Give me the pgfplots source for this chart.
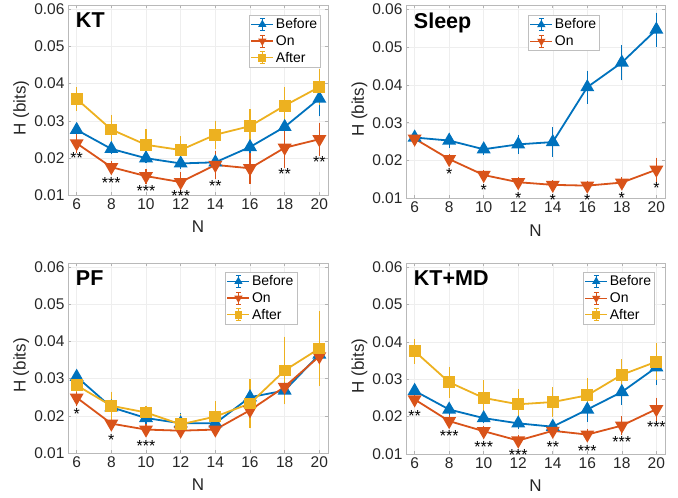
\documentclass[border=0pt]{standalone}
\usepackage{pgfplots}
\pgfplotsset{compat=1.18}
\usepackage{fontspec}
\setmainfont{Liberation Sans}
\definecolor{mblue}{rgb}{0,0.447,0.741}
\definecolor{morange}{rgb}{0.85,0.325,0.098}
\definecolor{myellow}{rgb}{0.929,0.694,0.125}
\tikzset{
  stars/.style={font=\fontsize{16}{18}\selectfont, anchor=base, inner sep=0pt, yshift=-9pt},
  ttl/.style={font=\bfseries\fontsize{21.5}{24}\selectfont, anchor=north west, inner sep=0pt},
}
\pgfplotsset{
  errleg/.style={legend image code/.code={
    \draw[##1, mark=none, line width=1.3pt] (0pt,0pt) -- (22pt,0pt);
    \draw[##1, mark=none, line width=1pt] (11pt,-6pt) -- (11pt,6pt) (8.5pt,-6pt) -- (13.5pt,-6pt) (8.5pt,6pt) -- (13.5pt,6pt);
    \draw[##1, mark size=3pt] plot coordinates {(11pt,0pt)};
  }},
  panel/.style={
    scale only axis, anchor=south west,
    xmin=5.5, xmax=20.5, ymin=0.01, ymax=0.0611,
    xtick={6,8,10,12,14,16,18,20},
    ytick={0.01,0.02,0.03,0.04,0.05,0.06},
    yticklabels={0.01,0.02,0.03,0.04,0.05,0.06},
    scaled y ticks=false,
    /pgf/number format/assume math mode=true,
    tick label style={font=\fontsize{15.5}{18}\selectfont, text=black!85},
    xlabel={N}, ylabel={H (bits)},
    label style={font=\fontsize{17}{20}\selectfont, text=black!85},
    x label style={at={(axis description cs:0.5,-0.165)}, anchor=center},
    y label style={at={(axis description cs:-0.18,0.46)}, anchor=center},
    grid=major, grid style={gray!13, line width=0.5pt},
    axis line style={gray!55, line width=0.6pt},
    tick style={gray!60, line width=0.6pt}, tick align=inside, major tick length=3pt,
    clip=false,
    legend cell align=left,
    legend style={font=\fontsize{14}{16}\selectfont, draw=gray!50, line width=0.5pt, inner sep=1.5pt, row sep=1.2pt, fill=white},
    errleg,
  },
  before/.style={color=mblue, line width=1.8pt, mark=triangle*, mark size=6.3pt, mark options={solid, fill=mblue},
    error bars/y dir=both, error bars/y explicit,
    error bars/error bar style={line width=1.2pt},
    error bars/error mark options={mblue, line width=1.2pt, mark size=3pt}},
  on/.style={color=morange, line width=1.8pt, mark=triangle*, mark size=6.3pt, mark options={solid, fill=morange, rotate=180},
    error bars/y dir=both, error bars/y explicit,
    error bars/error bar style={line width=1.2pt},
    error bars/error mark options={morange, line width=1.2pt, mark size=3pt, rotate=0}},
  after/.style={color=myellow, line width=1.8pt, mark=square*, mark size=5pt, mark options={solid, fill=myellow},
    error bars/y dir=both, error bars/y explicit,
    error bars/error bar style={line width=1.2pt},
    error bars/error mark options={myellow, line width=1.2pt, mark size=3pt}},
}
\begin{document}
\begin{tikzpicture}
\useasboundingbox (0,0) rectangle (678pt,498pt);
% ---------------- KT
\begin{axis}[panel, at={(68pt,302.5pt)}, width=260pt, height=190.5pt,
  legend style={at={(0.973,0.948)}, anchor=north east}]
\addplot[before] coordinates {(6,0.0276)+-(0,0.0005) (8,0.0225)+-(0,0.0006) (10,0.0200)+-(0,0.0006) (12,0.0186)+-(0,0.0006) (14,0.0189)+-(0,0.0006) (16,0.0230)+-(0,0.0010) (18,0.0284)+-(0,0.0025) (20,0.0360)+-(0,0.0040)};
\addlegendentry{Before}
\addplot[on] coordinates {(6,0.0240)+-(0,0.0017) (8,0.0176)+-(0,0.0009) (10,0.0152)+-(0,0.0012) (12,0.0136)+-(0,0.0018) (14,0.0182)+-(0,0.0030) (16,0.0173)+-(0,0.0033) (18,0.0228)+-(0,0.0046) (20,0.0251)+-(0,0.0036)};
\addlegendentry{On}
\addplot[after] coordinates {(6,0.0359)+-(0,0.0023) (8,0.0277)+-(0,0.0031) (10,0.0236)+-(0,0.0034) (12,0.0222)+-(0,0.0029) (14,0.0263)+-(0,0.0030) (16,0.0286)+-(0,0.0037) (18,0.0341)+-(0,0.0041) (20,0.0391)+-(0,0.0039)};
\addlegendentry{After}
\node[ttl] at (rel axis cs:0.03,0.96) {KT};
\node[stars] at (axis cs:6,0.0210) {**};
\node[stars] at (axis cs:8,0.0143) {***};
\node[stars] at (axis cs:10,0.0121) {***};
\node[stars] at (axis cs:12,0.0107) {***};
\node[stars] at (axis cs:14,0.0134) {**};
\node[stars] at (axis cs:18,0.0168) {**};
\node[stars] at (axis cs:20,0.0198) {**};
\end{axis}
% ---------------- Sleep
\begin{axis}[panel, at={(406pt,299.5pt)}, width=259pt, height=193.5pt,
  legend style={at={(0.749,0.948)}, anchor=north east}]
\addplot[before] coordinates {(6,0.0261)+-(0,0.0010) (8,0.0253)+-(0,0.0013) (10,0.0230)+-(0,0.0006) (12,0.0243)+-(0,0.0018) (14,0.0249)+-(0,0.0031) (16,0.0394)+-(0,0.0036) (18,0.0459)+-(0,0.0039) (20,0.0546)+-(0,0.0037)};
\addlegendentry{Before}
\addplot[on] coordinates {(6,0.0258)+-(0,0.0006) (8,0.0204)+-(0,0.0005) (10,0.0162)+-(0,0.0005) (12,0.0143)+-(0,0.0005) (14,0.0136)+-(0,0.0004) (16,0.0134)+-(0,0.0005) (18,0.0142)+-(0,0.0006) (20,0.0176)+-(0,0.0024)};
\addlegendentry{On}
\node[ttl] at (rel axis cs:0.03,0.96) {Sleep};
\node[stars] at (axis cs:8,0.01747) {*};
\node[stars] at (axis cs:10,0.01325) {*};
\node[stars] at (axis cs:12,0.01105) {*};
\node[stars] at (axis cs:14,0.01044) {*};
\node[stars] at (axis cs:16,0.01044) {*};
\node[stars] at (axis cs:18,0.01105) {*};
\node[stars] at (axis cs:20,0.01369) {*};
\end{axis}
% ---------------- PF
\begin{axis}[panel, at={(68pt,45pt)}, width=260pt, height=190pt,
  legend style={at={(0.881,0.953)}, anchor=north east}]
\addplot[before] coordinates {(6,0.0305)+-(0,0.0008) (8,0.0223)+-(0,0.0008) (10,0.0194)+-(0,0.0008) (12,0.0180)+-(0,0.0020) (14,0.0180)+-(0,0.0010) (16,0.0250)+-(0,0.0035) (18,0.0268)+-(0,0.0010) (20,0.0365)+-(0,0.0010)};
\addlegendentry{Before}
\addplot[on] coordinates {(6,0.0249)+-(0,0.0015) (8,0.0179)+-(0,0.0008) (10,0.0163)+-(0,0.0008) (12,0.0160)+-(0,0.0010) (14,0.0163)+-(0,0.0010) (16,0.0215)+-(0,0.0025) (18,0.0278)+-(0,0.0025) (20,0.0360)+-(0,0.0020)};
\addlegendentry{On}
\addplot[after] coordinates {(6,0.0282)+-(0,0.0010) (8,0.0227)+-(0,0.0030) (10,0.0209)+-(0,0.0010) (12,0.0177)+-(0,0.0020) (14,0.0198)+-(0,0.0033) (16,0.0233)+-(0,0.0058) (18,0.0322)+-(0,0.0083) (20,0.0381)+-(0,0.0093)};
\addlegendentry{After}
\node[ttl] at (rel axis cs:0.03,0.96) {PF};
\node[stars] at (axis cs:6,0.0215) {*};
\node[stars] at (axis cs:8,0.01442) {*};
\node[stars] at (axis cs:10,0.01283) {***};
\end{axis}
% ---------------- KT+MD
\begin{axis}[panel, at={(406pt,44pt)}, width=259pt, height=191pt,
  legend style={at={(0.961,0.953)}, anchor=north east}]
\addplot[before] coordinates {(6,0.0269)+-(0,0.0008) (8,0.0219)+-(0,0.0007) (10,0.0196)+-(0,0.0006) (12,0.0182)+-(0,0.0006) (14,0.0173)+-(0,0.0006) (16,0.0219)+-(0,0.0025) (18,0.0266)+-(0,0.0027) (20,0.0332)+-(0,0.0040)};
\addlegendentry{Before}
\addplot[on] coordinates {(6,0.0246)+-(0,0.0010) (8,0.0188)+-(0,0.0007) (10,0.0161)+-(0,0.0006) (12,0.0136)+-(0,0.0006) (14,0.0162)+-(0,0.0008) (16,0.0152)+-(0,0.0008) (18,0.0176)+-(0,0.0017) (20,0.0220)+-(0,0.0023)};
\addlegendentry{On}
\addplot[after] coordinates {(6,0.0375)+-(0,0.0025) (8,0.0292)+-(0,0.0033) (10,0.0250)+-(0,0.0039) (12,0.0233)+-(0,0.0033) (14,0.0239)+-(0,0.0031) (16,0.0257)+-(0,0.0037) (18,0.0312)+-(0,0.0034) (20,0.0347)+-(0,0.0042)};
\addlegendentry{After}
\node[ttl] at (rel axis cs:0.03,0.96) {KT+MD};
\node[stars] at (axis cs:6,0.0212) {**};
\node[stars] at (axis cs:8,0.01564) {***};
\node[stars] at (axis cs:10,0.01282) {***};
\node[stars] at (axis cs:12,0.01062) {***};
\node[stars] at (axis cs:14,0.01282) {**};
\node[stars] at (axis cs:16,0.01176) {***};
\node[stars] at (axis cs:18,0.01414) {***};
\node[stars] at (axis cs:20,0.01829) {***};
\end{axis}
\end{tikzpicture}
\end{document}
